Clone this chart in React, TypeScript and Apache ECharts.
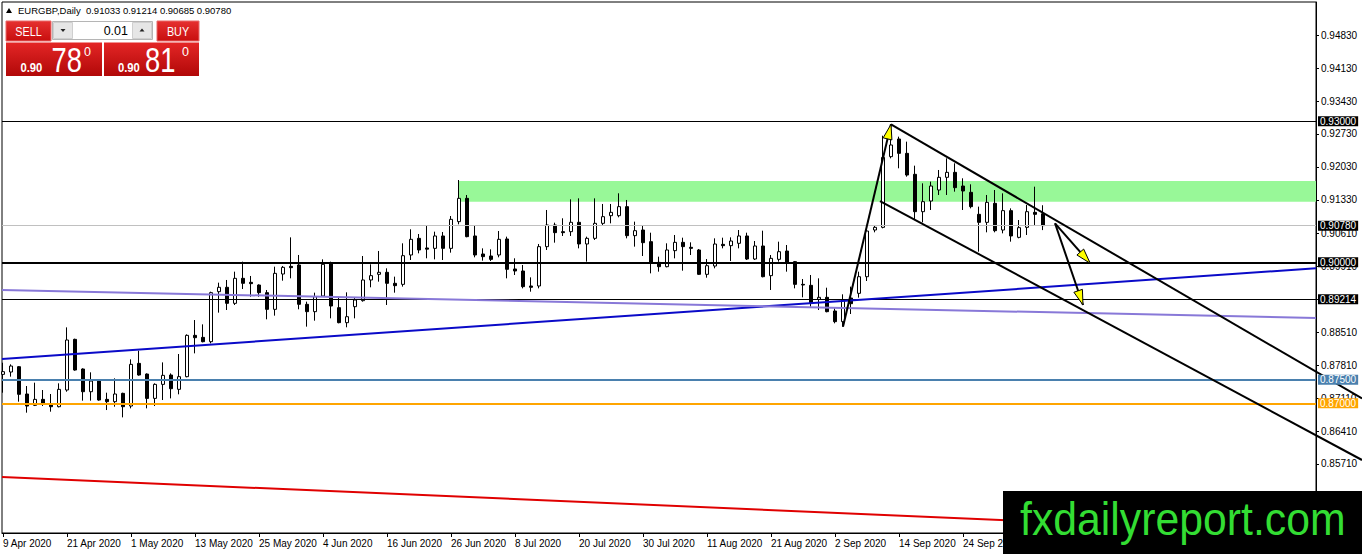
import React, { useEffect, useRef } from "react";
import * as echarts from "echarts";

// ---------- data ----------
const SYMBOL = "EURGBP,Daily";
const OPEN = [
  0.87616, 0.87666, 0.87779, 0.87198, 0.86957, 0.87084, 0.86992, 0.86928, 0.87283, 0.88361,
  0.8773, 0.87247, 0.87474, 0.87084, 0.87035, 0.87212, 0.86942, 0.8785, 0.87623, 0.87105,
  0.87403, 0.87602, 0.87297, 0.87567, 0.88446, 0.88403, 0.88311, 0.89375, 0.89468, 0.89127,
  0.89659, 0.89574, 0.89517, 0.89354, 0.88999, 0.89751, 0.89914, 0.89943, 0.89106, 0.8895,
  0.89283, 0.89964, 0.89035, 0.88716, 0.89056, 0.89184, 0.89624, 0.89744, 0.89787, 0.89553,
  0.89531, 0.90156, 0.9051, 0.90305, 0.90297, 0.9056, 0.90297, 0.90865, 0.91361, 0.9056,
  0.90177, 0.90134, 0.90156, 0.90496, 0.89858, 0.89815, 0.89496, 0.89496, 0.90333, 0.90794,
  0.90652, 0.90652, 0.90851, 0.9039, 0.9051, 0.90829, 0.90992, 0.90992, 0.91184, 0.90567,
  0.90687, 0.90439, 0.89999, 0.89907, 0.90248, 0.90425, 0.90319, 0.90262, 0.89744, 0.89921,
  0.90382, 0.90354, 0.90404, 0.9056, 0.9007, 0.90347, 0.89716, 0.90063, 0.9024, 0.90014,
  0.89531, 0.8951, 0.89212, 0.89255, 0.88964, 0.88737, 0.8924, 0.8934, 0.89694, 0.90687,
  0.90744, 0.92248, 0.92623, 0.92318, 0.91872, 0.91077, 0.91304, 0.91538, 0.91808, 0.91914,
  0.91623, 0.91489, 0.91021, 0.9085, 0.91255, 0.90687, 0.91099, 0.90531, 0.90744, 0.91063,
  0.91033,
];
const HIGH = [
  0.87864, 0.87829, 0.87793, 0.87368, 0.87439, 0.87283, 0.87198, 0.87425, 0.88616, 0.88375,
  0.87744, 0.87659, 0.87488, 0.87226, 0.87531, 0.87226, 0.87935, 0.8812, 0.87637, 0.87425,
  0.87871, 0.87637, 0.88049, 0.88467, 0.88772, 0.8868, 0.89375, 0.89567, 0.89624, 0.89801,
  0.90014, 0.89709, 0.89531, 0.89411, 0.89907, 0.89922, 0.90531, 0.90156, 0.89163, 0.89354,
  0.90063, 0.90014, 0.89269, 0.89361, 0.89248, 0.90134, 0.89957, 0.90241, 0.89872, 0.89695,
  0.90404, 0.90702, 0.90602, 0.90773, 0.90652, 0.90645, 0.90985, 0.91751, 0.91432, 0.90794,
  0.90297, 0.90276, 0.90666, 0.90546, 0.90085, 0.89943, 0.8968, 0.9039, 0.91113, 0.90843,
  0.90936, 0.9134, 0.91361, 0.90546, 0.91361, 0.91241, 0.91241, 0.91468, 0.91326, 0.90865,
  0.90772, 0.9063, 0.9012, 0.90404, 0.90581, 0.90524, 0.90425, 0.90283, 0.9007, 0.9051,
  0.90524, 0.90531, 0.90687, 0.9063, 0.90453, 0.90673, 0.90155, 0.90439, 0.90368, 0.90028,
  0.89645, 0.8973, 0.89659, 0.8946, 0.89021, 0.89319, 0.89482, 0.89801, 0.90723, 0.90794,
  0.92694, 0.92936, 0.92673, 0.92567, 0.92056, 0.9168, 0.91716, 0.91964, 0.92212, 0.92106,
  0.91787, 0.91659, 0.91184, 0.91432, 0.91538, 0.91467, 0.91148, 0.909, 0.91219, 0.91609,
  0.91214,
];
const LOW = [
  0.87226, 0.87567, 0.87035, 0.86801, 0.86942, 0.86942, 0.86822, 0.86914, 0.87247, 0.87694,
  0.87056, 0.87056, 0.87056, 0.86857, 0.86928, 0.86701, 0.86893, 0.87588, 0.86893, 0.86942,
  0.8707, 0.87105, 0.87191, 0.87553, 0.88063, 0.88297, 0.88276, 0.88929, 0.88985, 0.89092,
  0.89432, 0.89269, 0.89269, 0.88787, 0.88865, 0.89609, 0.89659, 0.89, 0.88631, 0.88758,
  0.89269, 0.88808, 0.88702, 0.88617, 0.88808, 0.89163, 0.89468, 0.89588, 0.89092, 0.89354,
  0.89482, 0.90049, 0.90191, 0.90085, 0.90063, 0.90049, 0.90205, 0.90808, 0.90532, 0.90106,
  0.90035, 0.90028, 0.90106, 0.89659, 0.8973, 0.89446, 0.89375, 0.89446, 0.90262, 0.90418,
  0.9056, 0.9056, 0.90297, 0.90014, 0.90475, 0.90794, 0.90829, 0.90957, 0.9051, 0.90333,
  0.90134, 0.89765, 0.89801, 0.89893, 0.90084, 0.89822, 0.90155, 0.8973, 0.89673, 0.89872,
  0.90297, 0.90028, 0.90297, 0.90049, 0.90049, 0.8968, 0.89411, 0.90014, 0.89801, 0.89446,
  0.89255, 0.89056, 0.88985, 0.88936, 0.88702, 0.88631, 0.889, 0.89248, 0.89602, 0.90638,
  0.90723, 0.92212, 0.92, 0.91822, 0.909, 0.9085, 0.91113, 0.91432, 0.91432, 0.91503,
  0.91113, 0.91148, 0.90226, 0.90638, 0.90638, 0.90616, 0.90439, 0.9051, 0.90581, 0.90794,
  0.90685,
];
const CLOSE = [
  0.87673, 0.87793, 0.87191, 0.86942, 0.87084, 0.86999, 0.86928, 0.87297, 0.88347, 0.87708,
  0.87247, 0.87474, 0.8707, 0.87035, 0.87198, 0.86928, 0.87829, 0.87602, 0.87105, 0.87403,
  0.87595, 0.87311, 0.87567, 0.88446, 0.88396, 0.88311, 0.89354, 0.89468, 0.89127, 0.89659,
  0.89553, 0.89546, 0.89354, 0.88999, 0.89765, 0.89893, 0.89886, 0.89106, 0.8895, 0.89269,
  0.89957, 0.8907, 0.88716, 0.88843, 0.89198, 0.89624, 0.89716, 0.89787, 0.89553, 0.89503,
  0.90141, 0.90489, 0.90262, 0.9028, 0.9056, 0.90297, 0.90914, 0.91361, 0.90546, 0.90156,
  0.9012, 0.90063, 0.90489, 0.89851, 0.89815, 0.89482, 0.89468, 0.90333, 0.90794, 0.90631,
  0.90631, 0.90851, 0.9039, 0.9051, 0.90829, 0.90971, 0.91063, 0.91184, 0.90567, 0.90673,
  0.90418, 0.89978, 0.89907, 0.90262, 0.90425, 0.90333, 0.90297, 0.89744, 0.89928, 0.90389,
  0.90354, 0.90453, 0.9056, 0.9007, 0.90347, 0.89694, 0.90084, 0.90226, 0.89978, 0.89531,
  0.89517, 0.89127, 0.89255, 0.8895, 0.88737, 0.89198, 0.8912, 0.89694, 0.90666, 0.90744,
  0.92233, 0.92496, 0.92318, 0.91857, 0.91077, 0.9129, 0.91623, 0.91808, 0.91914, 0.91588,
  0.91517, 0.91184, 0.9085, 0.91276, 0.90673, 0.91099, 0.9056, 0.90737, 0.91077, 0.91021,
  0.9078,
];

const X_TICK_LABELS = [
  "9 Apr 2020", "21 Apr 2020", "1 May 2020", "13 May 2020", "25 May 2020", "4 Jun 2020",
  "16 Jun 2020", "26 Jun 2020", "8 Jul 2020", "20 Jul 2020", "30 Jul 2020", "11 Aug 2020",
  "21 Aug 2020", "2 Sep 2020", "14 Sep 2020", "24 Sep 2020", "6 Oct 2020",
];
const BARS_PER_LABEL = 8;
const Y_TICKS = [
  0.8571, 0.8641, 0.8711, 0.8781, 0.8851, 0.8921, 0.8991, 0.9061, 0.9133, 0.9203, 0.9273,
  0.9343, 0.9413, 0.9483,
];
const X_RANGE = [-0.125, 164.125];
const Y_RANGE = [0.84241, 0.95538];

// horizontal levels: resistance, bid, round level, support, 0.875, 0.87
const PRICE_LEVELS = [0.93, 0.9078, 0.9, 0.89214, 0.875, 0.87];
// supply zone: from bar, top price, bottom price
const ZONE_START = 57;
const ZONE_PRICES = [0.9173, 0.9129];

// trend lines [[x1, y1], [x2, y2]] in (bar index, price)
const BLUE_TREND = [[-0.125, 0.87943], [164.125, 0.89872]];
const PURPLE_TREND = [[-0.125, 0.89411], [164.125, 0.88815]];
const RED_TREND = [[-0.125, 0.85432], [164.125, 0.84232]];
const CHANNEL_TOP = [[111, 0.92936], [169.875, 0.87104]];
const CHANNEL_BOTTOM = [[109.625, 0.91304], [169.875, 0.85794]];
// arrows
const IMPULSE_ARROW = [[105, 0.88631], [111, 0.92936]];
const ARROW_TO_900 = [[131.5, 0.9083], [135.9, 0.89979]];
const ARROW_TO_892 = [[131.5, 0.9083], [135.0, 0.89092]];

const BID = 0.9078;
const ASK = 0.9081;
const LOT = "0.01";

// ---------- styles ----------
const FONT = "'Liberation Sans', Arial, sans-serif";
const LEVEL_STYLES = [
  { color: "#000000", width: 1, box: "#000000" },
  { color: "#c0c0c0", width: 1, box: "#000000" },
  { color: "#000000", width: 2, box: "#000000" },
  { color: "#000000", width: 1, box: "#000000" },
  { color: "#4a80ae", width: 2, box: "#4a80ae" },
  { color: "#ffa500", width: 2, box: "#ffa500" },
];
const TREND_LINES = [BLUE_TREND, PURPLE_TREND, RED_TREND, CHANNEL_TOP, CHANNEL_BOTTOM];
const TREND_STYLES = [
  { color: "#0a0ac8", width: 2 },
  { color: "#8878d8", width: 2 },
  { color: "#e00000", width: 2 },
  { color: "#000000", width: 2 },
  { color: "#000000", width: 2 },
];
const ARROWS = [IMPULSE_ARROW, ARROW_TO_900, ARROW_TO_892];

function splitPrice(p: number) {
  const s = p.toFixed(5); // 0.90780
  return { head: s.slice(0, 4), big: s.slice(4, 6), tail: s.slice(6) };
}

function redGrad(top: string, bottom: string) {
  return new echarts.graphic.LinearGradient(0, 0, 0, 1, [
    { offset: 0, color: top },
    { offset: 1, color: bottom },
  ]);
}

function buildOption() {
  const last = OPEN.length - 1;
  const candles = OPEN.map((o, i) => [i, o, CLOSE[i], LOW[i], HIGH[i]]);
  const xTicks = X_TICK_LABELS.map((_, k) => k * BARS_PER_LABEL);
  const header = `${SYMBOL}  ${OPEN[last].toFixed(5)} ${HIGH[last].toFixed(5)} ${LOW[last].toFixed(5)} ${CLOSE[last].toFixed(5)}`;
  const bid = splitPrice(BID);
  const ask = splitPrice(ASK);

  const txt = (text: string, x: number, y: number, size: number, opts: any = {}) => ({
    type: "text",
    x,
    y,
    z: 60,
    scaleX: opts.scaleX || 1,
    silent: true,
    style: {
      text,
      fill: opts.fill || "#fff",
      font: `${opts.weight || "normal"} ${size}px ${FONT}`,
      align: opts.align || "left",
      textAlign: opts.align || "left",
      verticalAlign: "middle",
      textVerticalAlign: "middle",
    },
  });

  const graphic: any[] = [
    // header
    { type: "polygon", z: 60, silent: true, shape: { points: [[6, 13], [9, 8], [12, 13]] }, style: { fill: "#000" } },
    txt(header, 18, 10.7, 9.5, { fill: "#000" }),
    // SELL / BUY buttons
    { type: "rect", z: 55, silent: true, shape: { x: 6, y: 21, width: 45, height: 20 }, style: { fill: redGrad("#e63030", "#c80e0e"), stroke: "#e86a6a", lineWidth: 1 } },
    txt("SELL", 28.5, 31.3, 12, { align: "center", scaleX: 0.9 }),
    { type: "rect", z: 55, silent: true, shape: { x: 157, y: 21, width: 42, height: 20 }, style: { fill: redGrad("#e63030", "#c80e0e"), stroke: "#e86a6a", lineWidth: 1 } },
    txt("BUY", 178, 31.3, 12, { align: "center", scaleX: 0.9 }),
    // lot spinner
    { type: "rect", z: 55, silent: true, shape: { x: 52.5, y: 21.5, width: 100, height: 18 }, style: { fill: "#fff", stroke: "#b5b5b5", lineWidth: 1 } },
    { type: "rect", z: 56, silent: true, shape: { x: 53.5, y: 22.5, width: 19, height: 16 }, style: { fill: "#e6e6e6", stroke: "#cfcfcf", lineWidth: 1 } },
    { type: "rect", z: 56, silent: true, shape: { x: 132.5, y: 22.5, width: 19, height: 16 }, style: { fill: "#e6e6e6", stroke: "#cfcfcf", lineWidth: 1 } },
    { type: "polygon", z: 57, silent: true, shape: { points: [[60.5, 29], [65.5, 29], [63, 32]] }, style: { fill: "#222" } },
    { type: "polygon", z: 57, silent: true, shape: { points: [[139.5, 31.5], [144.5, 31.5], [142, 28.5]] }, style: { fill: "#222" } },
    txt(LOT, 128, 30.8, 12.5, { fill: "#000", align: "right" }),
    // price panels
    { type: "rect", z: 55, silent: true, shape: { x: 6, y: 42.5, width: 96, height: 33.5 }, style: { fill: redGrad("#e42626", "#b10808") } },
    { type: "rect", z: 55, silent: true, shape: { x: 104, y: 42.5, width: 95, height: 33.5 }, style: { fill: redGrad("#e42626", "#b10808") } },
    txt(bid.head, 20.5, 67.3, 12.5, { weight: "bold", scaleX: 0.9 }),
    txt(bid.big, 51.5, 59.3, 36, { scaleX: 0.76 }),
    txt(bid.tail, 84, 51.7, 12.5),
    txt(ask.head, 118, 67.3, 12.5, { weight: "bold", scaleX: 0.9 }),
    txt(ask.big, 145, 59.3, 36, { scaleX: 0.76 }),
    txt(ask.tail, 182, 51.7, 12.5),
    // watermark logo
    { type: "rect", z: 90, silent: true, shape: { x: 1003, y: 491, width: 359, height: 63 }, style: { fill: "#000" } },
    {
      type: "text",
      z: 91,
      silent: true,
      x: 1020,
      y: 518.5,
      scaleX: 0.93,
      style: {
        text: "fxdailyreport.com",
        fill: "#33dd33",
        font: `normal 46px ${FONT}`,
        align: "left",
        textAlign: "left",
        verticalAlign: "middle",
        textVerticalAlign: "middle",
      },
    },
  ];

  return {
    animation: false,
    backgroundColor: "#ffffff",
    textStyle: { fontFamily: FONT },
    grid: {
      left: 2,
      top: 2,
      right: 46,
      bottom: 21,
      show: true,
      borderColor: "#000",
      borderWidth: 1,
      backgroundColor: "transparent",
    },
    xAxis: {
      type: "value",
      min: X_RANGE[0],
      max: X_RANGE[1],
      axisLine: { show: true, onZero: false, lineStyle: { color: "#000", width: 1 } },
      axisTick: { show: true, length: 4, lineStyle: { color: "#000" }, customValues: xTicks },
      axisLabel: {
        show: true,
        customValues: xTicks,
        color: "#000",
        fontSize: 10,
        fontFamily: FONT,
        align: "left",
        margin: 5,
        formatter: (v: number) => X_TICK_LABELS[Math.round(v / BARS_PER_LABEL)] || "",
      },
      splitLine: { show: false },
    },
    yAxis: {
      type: "value",
      position: "right",
      min: Y_RANGE[0],
      max: Y_RANGE[1],
      axisLine: { show: true, onZero: false, lineStyle: { color: "#000", width: 1 } },
      axisTick: { show: true, length: 3, lineStyle: { color: "#000" }, customValues: Y_TICKS },
      axisLabel: {
        show: true,
        customValues: Y_TICKS,
        color: "#000",
        fontSize: 10,
        fontFamily: FONT,
        margin: 5,
        formatter: (v: number) => v.toFixed(5),
      },
      splitLine: { show: false },
    },
    series: [
      {
        type: "candlestick",
        data: candles,
        encode: { x: 0, y: [1, 2, 3, 4] },
        barWidth: 4,
        clip: true,
        silent: true,
        itemStyle: {
          color: "#ffffff",
          color0: "#000000",
          borderColor: "#000000",
          borderColor0: "#000000",
          borderColorDoji: "#000000",
          borderWidth: 1,
        },
        markArea: {
          silent: true,
          itemStyle: { color: "#98f898", opacity: 1 },
          data: [[{ xAxis: ZONE_START, yAxis: ZONE_PRICES[0] }, { xAxis: X_RANGE[1], yAxis: ZONE_PRICES[1] }]],
        },
        markLine: {
          silent: true,
          symbol: ["none", "none"],
          precision: 5,
          animation: false,
          data: PRICE_LEVELS.map((p, i) => ({
            yAxis: p,
            lineStyle: { color: LEVEL_STYLES[i].color, width: LEVEL_STYLES[i].width, type: "solid" },
            label: {
              show: true,
              position: "end",
              distance: 2,
              formatter: p.toFixed(5),
              color: "#fff",
              backgroundColor: LEVEL_STYLES[i].box,
              fontSize: 10,
              fontFamily: FONT,
              lineHeight: 10,
              padding: [0, 2, 0, 2],
            },
          })),
        },
      },
      {
        type: "custom",
        silent: true,
        clip: false,
        z: 5,
        dimensions: ["x1", "y1", "x2", "y2"],
        encode: { x: [0, 2], y: [1, 3] },
        data: TREND_LINES.map((l) => [l[0][0], l[0][1], l[1][0], l[1][1]]),
        renderItem: (params: any, api: any) => {
          const a = api.coord([api.value(0), api.value(1)]);
          const b = api.coord([api.value(2), api.value(3)]);
          const s = TREND_STYLES[params.dataIndex];
          return {
            type: "line",
            shape: { x1: a[0], y1: a[1], x2: b[0], y2: b[1] },
            style: { stroke: s.color, lineWidth: s.width },
          };
        },
      },
      {
        type: "custom",
        silent: true,
        clip: false,
        z: 6,
        dimensions: ["x1", "y1", "x2", "y2"],
        encode: { x: [0, 2], y: [1, 3] },
        data: ARROWS.map((l) => [l[0][0], l[0][1], l[1][0], l[1][1]]),
        renderItem: (params: any, api: any) => {
          const a = api.coord([api.value(0), api.value(1)]);
          const b = api.coord([api.value(2), api.value(3)]);
          const dx = b[0] - a[0];
          const dy = b[1] - a[1];
          const len = Math.hypot(dx, dy) || 1;
          const ux = dx / len;
          const uy = dy / len;
          const L = 15;
          const W = 4.5;
          const bx = b[0] - ux * L;
          const by = b[1] - uy * L;
          return {
            type: "group",
            children: [
              {
                type: "line",
                shape: { x1: a[0], y1: a[1], x2: b[0], y2: b[1] },
                style: { stroke: "#000", lineWidth: 2 },
              },
              {
                type: "polygon",
                shape: {
                  points: [
                    [b[0], b[1]],
                    [bx - uy * W, by + ux * W],
                    [bx + uy * W, by - ux * W],
                  ],
                },
                style: { fill: "#ffff00", stroke: "#000", lineWidth: 1 },
              },
            ],
          };
        },
      },
    ],
    graphic,
  };
}

export default function App() {
  const ref = useRef<HTMLDivElement>(null);
  useEffect(() => {
    document.body.style.margin = "0";
    document.body.style.overflow = "hidden";
    if (!ref.current) return;
    const chart = echarts.init(ref.current, null, { renderer: "svg" });
    chart.setOption(buildOption() as any);
    return () => chart.dispose();
  }, []);
  return <div ref={ref} style={{ width: 1362, height: 554 }} />;
}
